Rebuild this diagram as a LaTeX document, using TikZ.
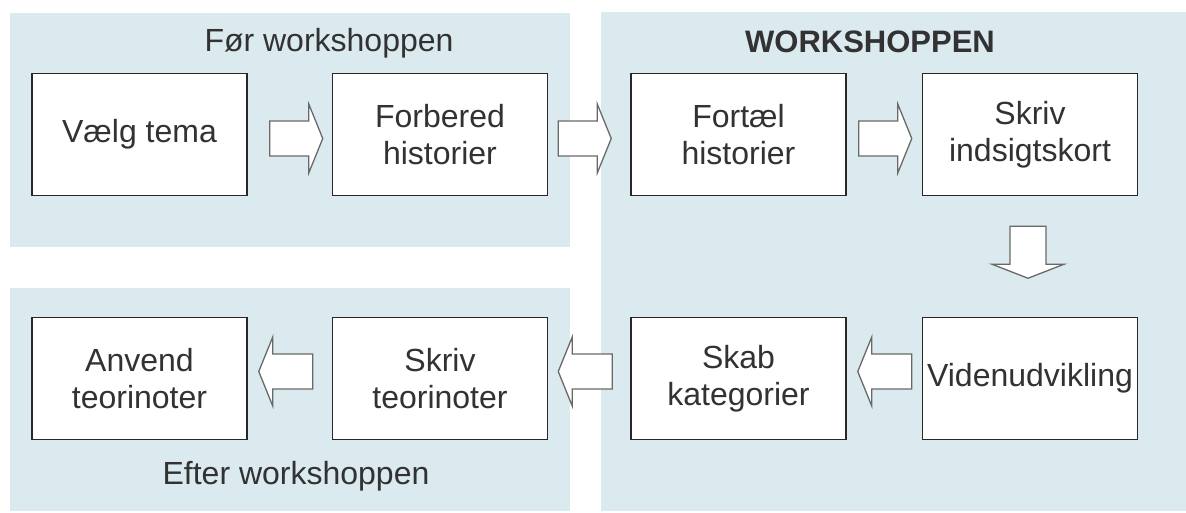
\documentclass[tikz,border=0pt]{standalone}
\usepackage{fontspec}
\setmainfont{Liberation Sans}
\usetikzlibrary{calc}
\definecolor{panelblue}{RGB}{219,234,239}
\definecolor{boxline}{RGB}{40,40,40}
\definecolor{txt}{RGB}{50,50,50}
\definecolor{arrline}{RGB}{105,105,105}
\newcommand\RArr[1]{\draw[bigarrow] (#1) ++(0,-17.5) -- ++(39,0) -- ++(0,-17) -- ++(14,34.5) -- ++(-14,34.5) -- ++(0,-17) -- ++(-39,0) -- cycle;}
\newcommand\LArr[1]{\draw[bigarrow] (#1) -- ++(14,-34.5) -- ++(0,17) -- ++(40,0) -- ++(0,35) -- ++(-40,0) -- ++(0,17) -- cycle;}
\newcommand\DArr[1]{\draw[bigarrow] (#1) ++(-18,0) -- ++(36,0) -- ++(0,38) -- ++(18,0) -- ++(-36,14) -- ++(-36,-14) -- ++(18,0) -- cycle;}
\begin{document}
\begin{tikzpicture}[x=1pt,y=-1pt,
  panel/.style={fill=panelblue,draw=none},
  stepbox/.style={draw=boxline,line width=1.5pt,fill=white,minimum width=215pt,minimum height=122pt,
    align=center,inner sep=2pt,text=txt,font=\fontsize{32}{37}\selectfont},
  title/.style={text=txt,font=\fontsize{32}{37}\selectfont,inner sep=0pt},
  bigarrow/.style={draw=arrline,line width=1.3pt,fill=white,line join=miter}]
\useasboundingbox (0,0) rectangle (1186,513);
\fill[white] (0,0) rectangle (1186,513);
% panels
\path[panel] (10,13) rectangle (570,247);
\path[panel] (10,288) rectangle (570,511);
\path[panel] (601,12) rectangle (1186,511);
% titles
\node[title] (t1) at (329,43) {Før workshoppen};
\node[title,font=\fontsize{31}{36}\selectfont\bfseries] (t2) at (870,42) {WORKSHOPPEN};
\node[title] (t3) at (296,476) {Efter workshoppen};
% boxes
\node[stepbox] (vt) at (139.5,134.5) {Vælg tema};
\node[stepbox] (fh) at (440,134.5) {Forbered\\historier};
\node[stepbox] (ft) at (738.5,134.5) {Fortæl\\historier};
\node[stepbox] (si) at (1030,134.5) {Skriv\\indsigtskort};
\node[stepbox] (vu) at (1030,378.5) {Videnudvikling};
\node[stepbox] (sk) at (738.5,378.5) {Skab\\kategorier};
\node[stepbox] (st) at (440,378.5) {Skriv\\teorinoter};
\node[stepbox] (at) at (139.5,378.5) {Anvend\\teorinoter};
% arrows
\coordinate (a1) at ($(vt.east)+(22,4)$);
\coordinate (a2) at ($(fh.east)+(10,4)$);
\coordinate (a3) at ($(ft.east)+(12,4)$);
\coordinate (a4) at ($(si.south)+(-2,30)$);
\coordinate (a5) at ($(sk.east)+(11,-7)$);
\coordinate (a6) at ($(st.east)+(10,-7)$);
\coordinate (a7) at ($(at.east)+(11,-7)$);
\RArr{a1}
\RArr{a2}
\RArr{a3}
\DArr{a4}
\LArr{a5}
\LArr{a6}
\LArr{a7}
\end{tikzpicture}
\end{document}
